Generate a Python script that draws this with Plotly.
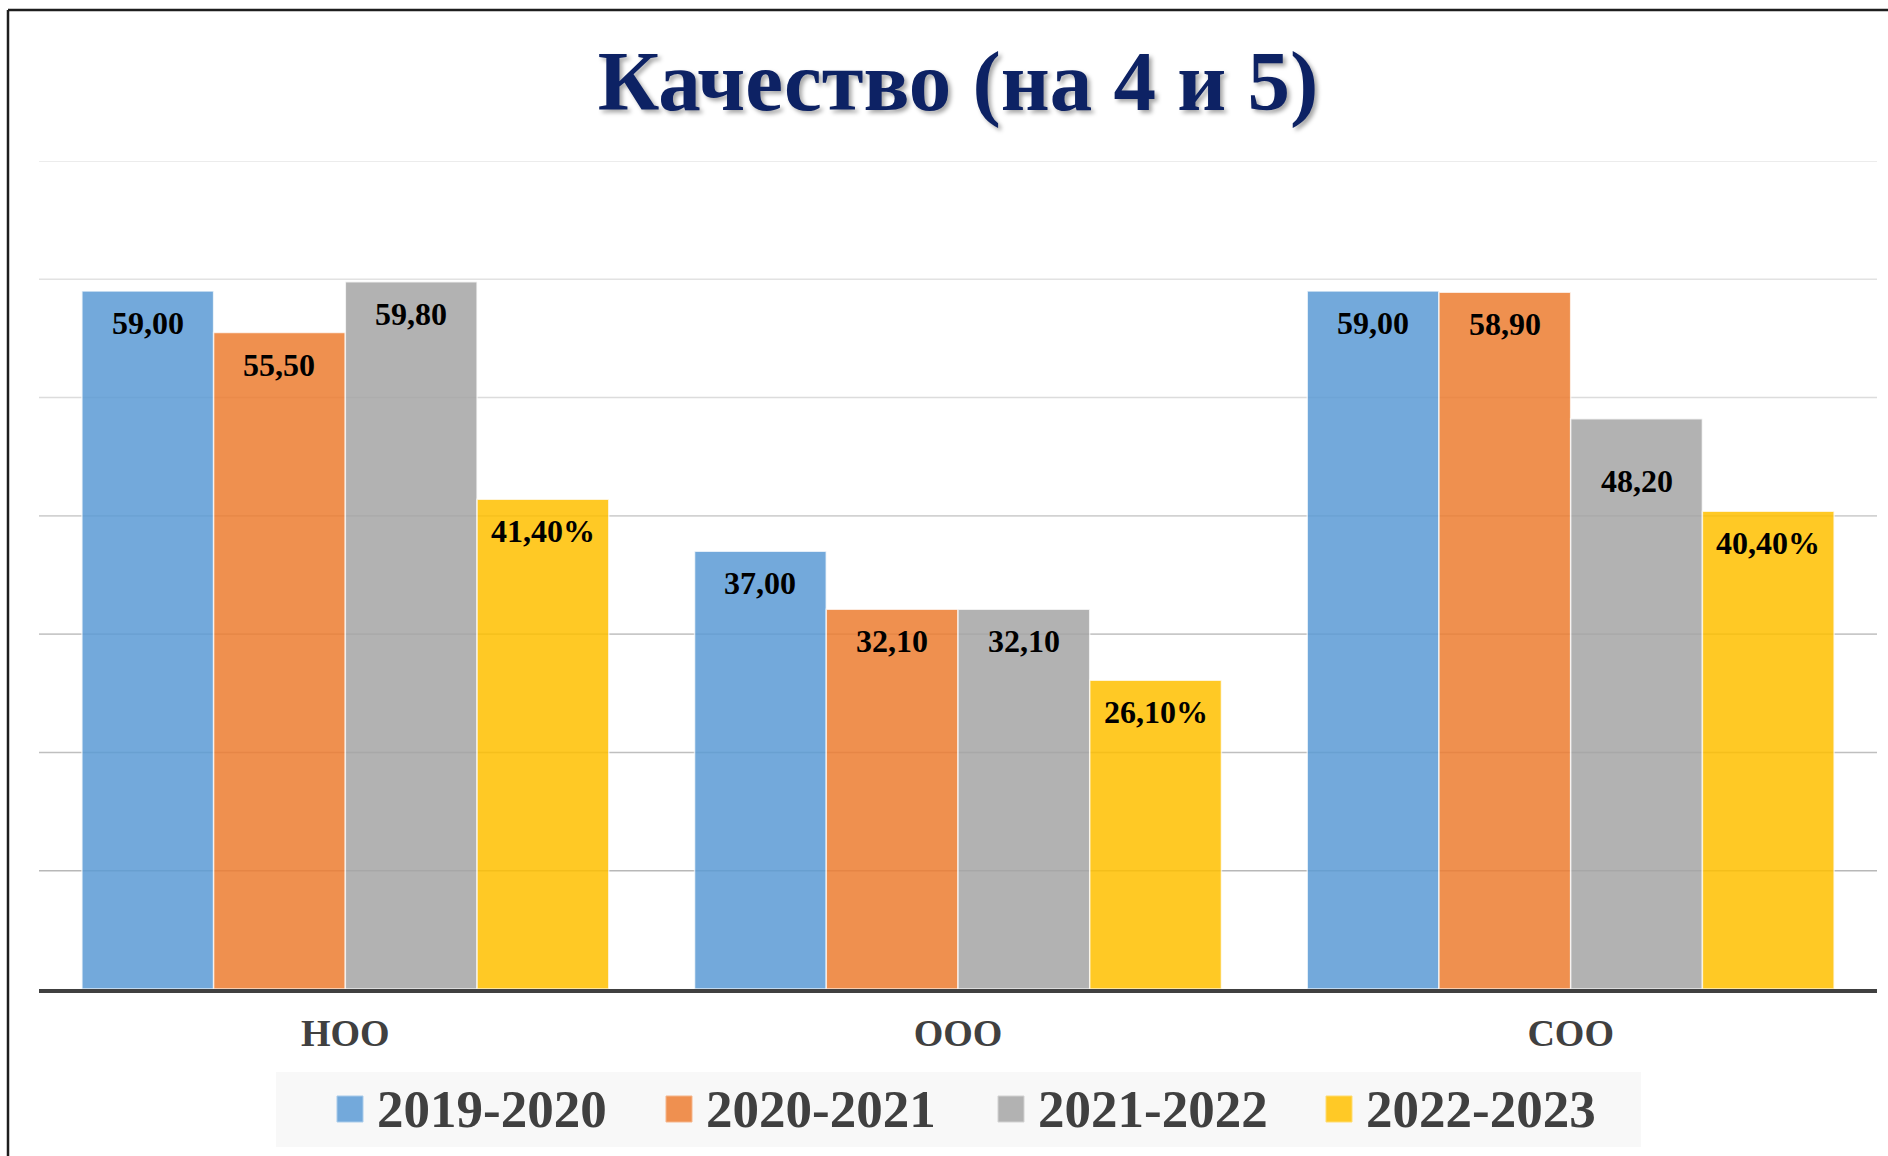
import plotly.graph_objects as go

# ---------------- data ----------------
categories = ["НОО", "ООО", "СОО"]
series_names = ["2019-2020", "2020-2021", "2021-2022", "2022-2023"]
values_2019_2020 = [59.00, 37.00, 59.00]
values_2020_2021 = [55.50, 32.10, 58.90]
values_2021_2022 = [59.80, 32.10, 48.20]
values_2022_2023 = [41.40, 26.10, 40.40]
label_suffix = ["", "", "", "%"]
grid_values = [10, 20, 30, 40, 50, 60, 70]
title_text = "Качество (на 4 и 5)"

series_values = [values_2019_2020, values_2020_2021, values_2021_2022, values_2022_2023]

# ---------------- style ----------------
W, H = 1888, 1156
L, R, T, B = 39, 11, 161, 167
PW, PH = W - L - R, H - T - B
BARGAP = 0.14
BAR_OPACITY = 0.85
base_colors = ["#5B9BD5", "#ED7D31", "#A5A5A5", "#FFC000"]
legend_colors = ["#73A9DB", "#EF9050", "#B2B2B2", "#FFC926"]
legend_edge = ["#A9CBEA", "#F5B58B", "#D2D2D2", "#FFDC70"]
grid_colors = ["#B8B8B8", "#BFBFBF", "#C8C8C8", "#D2D2D2", "#DCDCDC", "#E2E2E2", "#E6E6E6"]
SERIF = "Liberation Serif, Times New Roman, serif"
TEXT_GREY = "#404040"
label_drop_default = 32
label_drop_extra = {(2, 2): 30}  # (category index, series index): extra px down


def px(x):
    return (x - L) / PW


def py(y):
    return (H - B - y) / PH


fig = go.Figure()

for j, (name, vals) in enumerate(zip(series_names, series_values)):
    fig.add_trace(go.Bar(
        x=categories, y=vals, name=name,
        marker=dict(color=base_colors[j], opacity=BAR_OPACITY,
                    line=dict(color="rgba(255,255,255,0.75)", width=1.5)),
        hoverinfo="skip", showlegend=False,
    ))

# data labels (inside end of each bar)
n = len(series_names)
w = (1 - BARGAP) / n
annotations = []
for j, vals in enumerate(series_values):
    for i, v in enumerate(vals):
        txt = f"{v:.2f}".replace(".", ",") + label_suffix[j]
        drop = label_drop_default + label_drop_extra.get((i, j), 0)
        annotations.append(dict(
            x=i + (j - (n - 1) / 2) * w, y=v, xref="x", yref="y",
            text=txt, showarrow=False, xanchor="center", yanchor="middle",
            yshift=-drop,
            font=dict(family=SERIF, size=32, color="#000000", weight="bold"),
        ))

# custom legend
legend_square_x = [337, 666, 998, 1326]
for j, name in enumerate(series_names):
    sx = legend_square_x[j]
    annotations.append(dict(
        x=px(sx + 38), y=py(1109), xref="paper", yref="paper",
        text=name, showarrow=False, xanchor="left", yanchor="middle",
        font=dict(family=SERIF, size=53, color=TEXT_GREY, weight="bold"),
    ))

shapes = []
# gridlines
for g, c in zip(grid_values, grid_colors):
    shapes.append(dict(type="line", xref="paper", yref="y", x0=0, x1=1, y0=g, y1=g,
                       line=dict(color=c, width=1.6), layer="below"))
# legend background
shapes.append(dict(type="rect", xref="paper", yref="paper",
                   x0=px(276), x1=px(1641), y0=py(1147), y1=py(1072),
                   fillcolor="#F8F8F8", line=dict(width=0), layer="below"))
for j in range(n):
    sx = legend_square_x[j]
    shapes.append(dict(type="rect", xref="paper", yref="paper",
                       x0=px(sx), x1=px(sx + 26), y0=py(1122), y1=py(1096),
                       fillcolor=legend_colors[j], line=dict(color=legend_edge[j], width=1)))
# chart frame
shapes.append(dict(type="line", xref="paper", yref="paper",
                   x0=px(8), x1=px(8), y0=py(10), y1=py(1160),
                   line=dict(color="#1E1E1E", width=2.5)))
shapes.append(dict(type="line", xref="paper", yref="paper",
                   x0=px(8), x1=px(1892), y0=py(10), y1=py(10),
                   line=dict(color="#1E1E1E", width=2.5)))

fig.update_layout(
    width=W, height=H,
    margin=dict(l=L, r=R, t=T, b=B, pad=0),
    paper_bgcolor="white", plot_bgcolor="white",
    barmode="group", bargap=BARGAP, bargroupgap=0,
    showlegend=False,
    title=dict(
        text=title_text, x=0.5, xref="paper", xanchor="center",
        y=1 - 80 / H, yref="container", yanchor="middle",
        font=dict(family=SERIF, size=85, color="#0D2264", weight="bold",
                  shadow="3px 3px 4px rgba(0,0,0,0.35)"),
    ),
    xaxis=dict(
        showline=True, linecolor=TEXT_GREY, linewidth=3.5,
        ticks="outside", ticklen=8, tickcolor="rgba(0,0,0,0)",
        showgrid=False, zeroline=False,
        tickfont=dict(family=SERIF, size=38, color=TEXT_GREY, weight="bold"),
    ),
    yaxis=dict(range=[0, 70], showgrid=False, zeroline=False, showline=False,
               showticklabels=False, ticks=""),
    annotations=annotations,
    shapes=shapes,
)

fig.write_html(
    "out.html",
    config={"displayModeBar": False},
    post_script="document.body.style.margin='0';document.body.style.overflow='hidden';",
)
